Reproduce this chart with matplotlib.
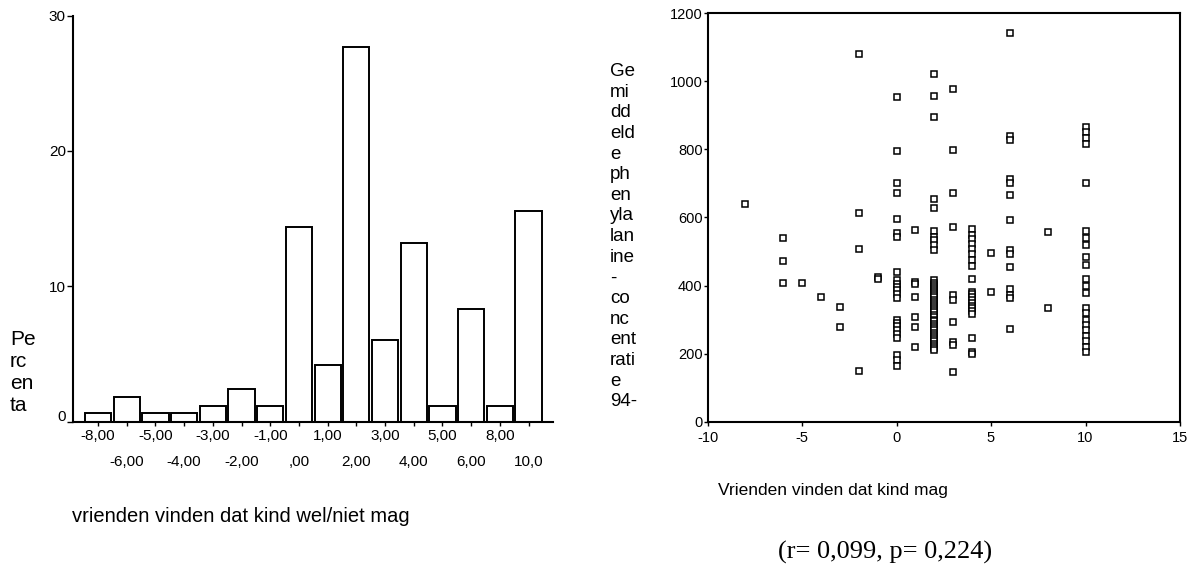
import matplotlib
matplotlib.use("Agg")
import matplotlib.pyplot as plt
import numpy as np
from matplotlib.transforms import ScaledTranslation

plt.rcParams['font.family'] = ['Liberation Sans', 'DejaVu Sans']

# --- histogram: percentage per answer category ---
categories = ['-8,00', '-6,00', '-5,00', '-4,00', '-3,00', '-2,00', '-1,00', ',00',
              '1,00', '2,00', '3,00', '4,00', '5,00', '6,00', '8,00', '10,0']
percent = [0.67, 1.85, 0.67, 0.67, 1.19, 2.44, 1.19, 14.37,
           4.2, 27.66, 6.05, 13.21, 1.19, 8.35, 1.19, 15.56]
hist_yticks = [0, 10, 20, 30]

# --- scatter: mean phenylalanine concentration per friends score ---
phe_by_score = {
    -8: [640],
    -6: [539, 473, 407],
    -5: [407],
    -4: [367],
    -3: [336, 277],
    -2: [1080, 614, 507, 150],
    -1: [424, 418],
    0: [955, 795, 702, 672, 595, 553, 544, 441, 416, 405, 396, 386, 376, 362,
        300, 291, 281, 270, 258, 247, 196, 180, 165],
    1: [563, 410, 404, 367, 309, 279, 220],
    2: [1022, 958, 896, 654, 627, 560, 544, 534, 520, 505, 416, 409, 402, 397,
        390, 384, 379, 371, 366, 358, 352, 347, 339, 334, 327, 321, 314, 308,
        300, 295, 288, 281, 276, 268, 262, 255, 249, 242, 236, 229, 221, 216, 211],
    3: [977, 798, 671, 573, 372, 358, 294, 235, 226, 145],
    4: [565, 550, 536, 522, 506, 492, 476, 458, 418, 382, 374, 366, 357, 349,
        341, 333, 325, 316, 245, 206, 198],
    5: [495, 382],
    6: [1141, 840, 828, 712, 700, 666, 593, 505, 492, 455, 390, 372, 364, 272],
    8: [558, 333],
    10: [865, 850, 833, 815, 702, 560, 541, 520, 484, 460, 420, 400, 378, 333,
         318, 300, 284, 268, 252, 236, 219, 204],
}
scatter_xticks = [-10, -5, 0, 5, 10, 15]
scatter_yticks = [0, 200, 400, 600, 800, 1000, 1200]

ylabel_lines = ['Ge', 'mi', 'dd', 'eld', 'e', 'ph', 'en', 'yla', 'lan', 'ine',
                '-', 'co', 'nc', 'ent', 'rati', 'e', '94-']
stats_text = '(r= 0,099, p= 0,224)'

W, H = 1202, 571
fig = plt.figure(figsize=(W / 100, H / 100), dpi=100)


def px_rect(left, right, top, bottom):
    return [left / W, 1 - bottom / H, (right - left) / W, (bottom - top) / H]


# ---------------- histogram ----------------
ax1 = fig.add_axes(px_rect(72.7, 553, 15.5, 421.7))
pos = np.arange(len(categories))
ax1.bar(pos, percent, width=0.915, color='white', edgecolor='black', linewidth=1.4)
ax1.set_xlim(-0.88, 15.85)
ax1.set_ylim(0, 30)
for side in ('top', 'right'):
    ax1.spines[side].set_visible(False)
for side in ('left', 'bottom'):
    ax1.spines[side].set_linewidth(1.5)
ax1.set_yticks(hist_yticks)
ax1.set_yticklabels([str(v) for v in hist_yticks])
ax1.set_xticks(pos[0::2])
ax1.set_xticklabels(categories[0::2])
ax1.set_xticks(pos[1::2], minor=True)
ax1.set_xticklabels(categories[1::2], minor=True)
ax1.tick_params(axis='x', which='major', length=3, width=1, pad=2.5, labelsize=11)
ax1.tick_params(axis='x', which='minor', length=3, width=1, pad=21, labelsize=11)
ax1.tick_params(axis='y', length=4, width=1, pad=1, labelsize=11)
zero_lab = ax1.get_yticklabels()[0]
zero_lab.set_transform(zero_lab.get_transform() + ScaledTranslation(0, 0.06, fig.dpi_scale_trans))

fig.text(10 / W, 1 - 372.5 / H, 'Pe\nrc\nen\nta', fontsize=15, ha='left', va='center',
         linespacing=1.2)
fig.text(72 / W, 1 - 516.7 / H, 'vrienden vinden dat kind wel/niet mag', fontsize=14.5,
         ha='left', va='center')

# ---------------- scatter ----------------
ax2 = fig.add_axes(px_rect(707.5, 1180, 13.3, 421.7))
for score, values in phe_by_score.items():
    ax2.plot([score] * len(values), values, ls='none', marker='s', ms=4.2,
             mfc='white', mec='black', mew=1.1)
ax2.set_xlim(-10, 15)
ax2.set_ylim(0, 1200)
ax2.set_xticks(scatter_xticks)
ax2.set_xticklabels([str(v) for v in scatter_xticks])
ax2.set_yticks(scatter_yticks)
ax2.set_yticklabels([str(v) for v in scatter_yticks])
for side in ax2.spines:
    ax2.spines[side].set_linewidth(1.5)
ax2.tick_params(axis='both', length=3, width=1, labelsize=10.5)
ax2.tick_params(axis='y', pad=0.5)
ax2.tick_params(axis='x', pad=4)

fig.text(610 / W, 1 - 63 / H, '\n'.join(ylabel_lines), fontsize=13.5, ha='left', va='top',
         linespacing=1.28)
fig.text(718 / W, 1 - 491 / H, 'Vrienden vinden dat kind mag', fontsize=12.5, ha='left',
         va='center')
fig.text(885 / W, 1 - 552 / H, stats_text, fontsize=19, ha='center', va='center',
         family=['Liberation Serif', 'DejaVu Serif'])

fig.savefig('out.png', dpi=100, facecolor='white')
